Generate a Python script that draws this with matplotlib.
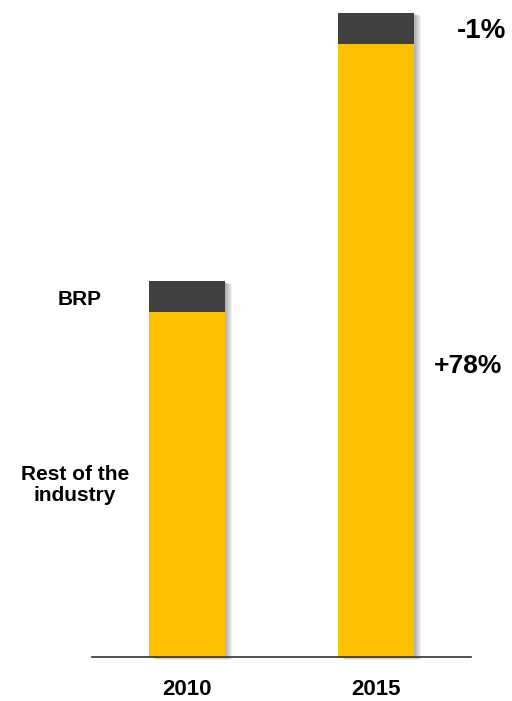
import matplotlib.pyplot as plt

years = ['2010', '2015']
rest_of_industry = [100, 178]
brp = [9, 8.9]
change_labels = ['+78%', '-1%']

plt.rcParams['font.family'] = ['Liberation Sans', 'DejaVu Sans']

W, H = 512, 701
fig = plt.figure(figsize=(W / 100, H / 100), dpi=100)
# axes box in pixels: left 92, right 471, bottom line at y=657, top at y=13
ax = fig.add_axes([92 / W, (H - 657) / H, (471 - 92) / W, (657 - 13) / H])

x = [0, 1]
width = 0.4
totals = [r + b for r, b in zip(rest_of_industry, brp)]
ax.set_xlim(-0.5, 1.5)
ax.set_ylim(0, max(totals))

# soft drop shadow to the right: stacked translucent copies
upx = 2.0 / (471 - 92)          # data units per pixel in x
upy = max(totals) / (657 - 13)  # data units per pixel in y
for k in range(1, 8):
    ax.bar([xi + k * upx for xi in x], totals, width=width, bottom=-k * 0.4 * upy,
           color='#606060', alpha=0.09, edgecolor='none', zorder=1, clip_on=False)

ax.bar(x, rest_of_industry, width=width, color='#FFC000', edgecolor='none', zorder=2)
ax.bar(x, brp, width=width, bottom=rest_of_industry, color='#404040', edgecolor='none', zorder=2)

for s in ['top', 'right', 'left']:
    ax.spines[s].set_visible(False)
ax.spines['bottom'].set_color('#333333')
ax.spines['bottom'].set_linewidth(1.2)
ax.spines['bottom'].set_zorder(3)
ax.set_yticks([])
ax.set_xticks(x)
ax.set_xticklabels(years, fontsize=16, fontweight='bold')
ax.tick_params(axis='x', length=0, pad=16)

def px(xp, yp):
    return xp / W, 1 - yp / H

fig.text(*px(79.5, 300), 'BRP', fontsize=15, fontweight='bold', ha='center', va='center')
fig.text(*px(75, 485), 'Rest of the\nindustry', fontsize=15, fontweight='bold',
         ha='center', va='center', linespacing=1.1)
fig.text(*px(482, 31), change_labels[1], fontsize=20, fontweight='bold', ha='center', va='center')
fig.text(*px(468, 366), change_labels[0], fontsize=19, fontweight='bold', ha='center', va='center')

fig.savefig('out.png', dpi=100)
